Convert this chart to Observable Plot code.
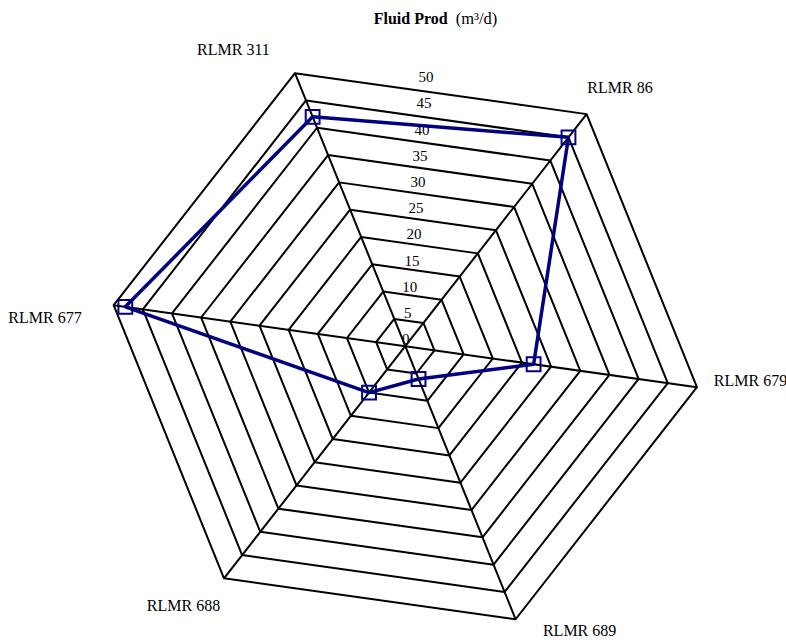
<!DOCTYPE html>
<html>
<head>
<meta charset="utf-8">
<script src="https://cdn.jsdelivr.net/npm/d3@7"></script>
<script src="https://cdn.jsdelivr.net/npm/@observablehq/plot@0.6"></script>
<style>
  html, body { margin: 0; padding: 0; background: #fff; }
  #wrap { position: relative; width: 786px; height: 642px; }
  #title { position: absolute; left: 0; width: 871px; top: 9px; text-align: center;
           font-family: "Liberation Serif", "Times New Roman", serif; font-size: 16px; color: #000; white-space: nowrap; }
  #title b { font-weight: bold; }
  #title span { font-size: 16.5px; }
</style>
</head>
<body>
<div id="wrap">
  <div id="title"><b>Fluid Prod</b>&nbsp;&nbsp;<span>(m³/d)</span></div>
</div>
<script>
// ---- data ----
const categories = ["RLMR 311", "RLMR 86", "RLMR 679", "RLMR 689", "RLMR 688", "RLMR 677"];
const values = [42, 45, 22, 6, 10, 48];
const tickValues = [0, 5, 10, 15, 20, 25, 30, 35, 40, 45, 50];
const maxValue = 50;

// ---- layout ----
const W = 786, H = 642;
const cx = 404.8, cy = 345.7, pxPerUnit = 294.5 / maxValue;
const startAngle = -22; // degrees clockwise from north
const angleOf = i => (startAngle + i * 360 / categories.length) * Math.PI / 180;
const px = (v, a) => v * Math.sin(a);
const py = (v, a) => v * Math.cos(a);
const labelNudge = [[-61.5, -23.6], [33.4, -26.6], [53.6, -6.7], [64, 11.2], [-40.5, 27.2], [-68.7, 12.3]];
const tickAngle = 4.4 * Math.PI / 180;
const tickRadius = v => (7 + v * 5.25) / pxPerUnit;

// rings
const rings = [];
tickValues.filter(v => v > 0).forEach(v => {
  for (let i = 0; i <= categories.length; i++) {
    const a = angleOf(i % categories.length);
    rings.push({ring: v, x: px(v, a), y: py(v, a)});
  }
});
// spokes
const spokes = categories.map((c, i) => ({x2: px(maxValue, angleOf(i)), y2: py(maxValue, angleOf(i))}));
// series
const series = categories.map((c, i) => ({cat: c, v: values[i], x: px(values[i], angleOf(i)), y: py(values[i], angleOf(i))}));
const seriesClosed = series.concat([series[0]]);
// category labels
const catLabels = categories.map((c, i) => ({text: c, x: px(maxValue, angleOf(i)), y: py(maxValue, angleOf(i)), dx: labelNudge[i][0], dy: labelNudge[i][1]}));
// tick labels
const tickLabels = tickValues.map(v => ({text: String(v), x: px(tickRadius(v), tickAngle), y: py(tickRadius(v), tickAngle)}));

const chart = Plot.plot({
  width: W,
  height: H,
  margin: 0,
  style: {fontFamily: "'Liberation Serif', 'Times New Roman', serif", background: "transparent"},
  x: {domain: [-cx / pxPerUnit, (W - cx) / pxPerUnit], axis: null},
  y: {domain: [-(H - cy) / pxPerUnit, cy / pxPerUnit], axis: null},
  marks: [
    Plot.line(rings, {x: "x", y: "y", z: "ring", stroke: "#000", strokeWidth: 2}),
    Plot.link(spokes, {x1: 0, y1: 0, x2: "x2", y2: "y2", stroke: "#000", strokeWidth: 2}),
    Plot.text(tickLabels, {x: "x", y: "y", text: "text", fontSize: 15, fill: "#000"}),
    Plot.line(seriesClosed, {x: "x", y: "y", stroke: "#000080", strokeWidth: 3.5, strokeLinejoin: "miter"}),
    Plot.dot(series, {x: "x", y: "y", symbol: "square", r: 7.8, stroke: "#000080", strokeWidth: 2, fill: "none"}),
    ...catLabels.map(d => Plot.text([d], {x: "x", y: "y", text: "text", dx: d.dx, dy: d.dy, fontSize: 16, fill: "#000"}))
  ]
});
document.getElementById("wrap").prepend(chart);
</script>
</body>
</html>
